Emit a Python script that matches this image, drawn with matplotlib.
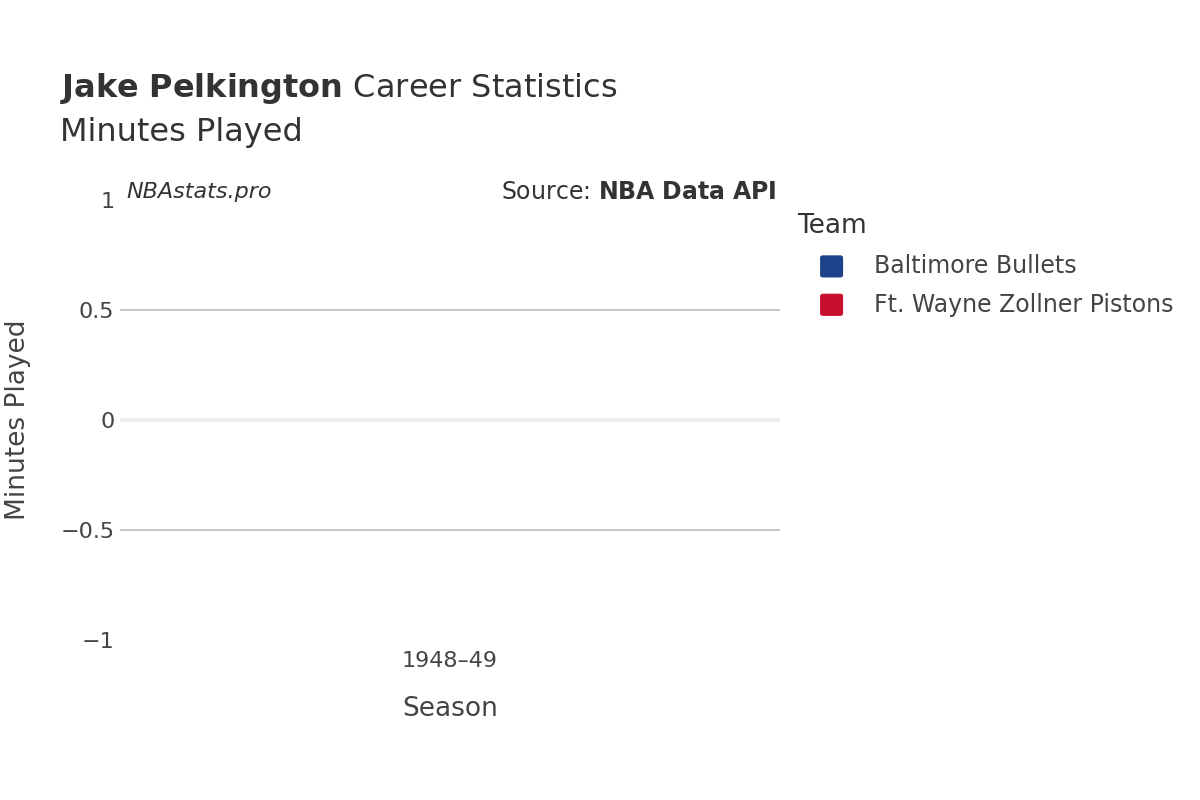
import matplotlib
matplotlib.use("Agg")
import matplotlib.pyplot as plt
import numpy as np

seasons = ["1948–49"]
teams = ["Baltimore Bullets", "Ft. Wayne Zollner Pistons"]
colors = ["#1d428a", "#c8102e"]
minutes = {"Baltimore Bullets": [0], "Ft. Wayne Zollner Pistons": [0]}

fig = plt.figure(figsize=(12, 8), dpi=100)
ax = fig.add_axes([0.1, 0.2, 0.55, 0.55])
x = np.arange(len(seasons))
w = 0.4
for i, t in enumerate(teams):
    ax.bar(x + (i - 0.5) * w, minutes[t], w, color=colors[i])
ax.set_xlim(-0.5, 0.5)
ax.set_ylim(-1, 1)
ax.set_yticks([-1, -0.5, 0, 0.5, 1])
ax.set_yticklabels(["−1", "−0.5", "0", "0.5", "1"])
for y in [-0.5, 0.5]:
    ax.axhline(y, color="#bbbbbb", lw=1.2, zorder=0)
ax.axhline(0, color="#eeeeee", lw=3, zorder=0)
ax.set_xticks(x)
ax.set_xticklabels(seasons)
for s in ax.spines.values():
    s.set_visible(False)
ax.tick_params(length=0, labelsize=16, colors="#444444", pad=4)
ax.tick_params(axis="x", pad=8)
ax.set_xlabel("Season", fontsize=19, color="#444444", labelpad=18)
fig.text(0.015, 0.475, "Minutes Played", fontsize=19, color="#444444", rotation=90, va="center", ha="center")

fig.text(0.05, 0.868, r"$\bf{Jake\ Pelkington}$ Career Statistics", fontsize=23, color="#333333", va="bottom")
fig.text(0.05, 0.835, "Minutes Played", fontsize=23, color="#333333", va="center")
fig.text(0.105, 0.76, "NBAstats.pro", fontsize=16, style="italic", color="#333333", va="center")
fig.text(0.647, 0.76, r"Source: $\bf{NBA\ Data\ API}$", fontsize=17, color="#333333", va="center", ha="right")

fig.text(0.664, 0.717, "Team", fontsize=19, color="#333333", va="center")
for i, t in enumerate(teams):
    yy = 0.667 - i * 0.048
    fig.patches.append(matplotlib.patches.FancyBboxPatch((0.686, yy - 0.011), 0.014, 0.022,
        boxstyle="round,pad=0.002", transform=fig.transFigure, color=colors[i]))
    fig.text(0.728, yy, t, fontsize=17, color="#444444", va="center")

fig.savefig("out.png", dpi=100)
